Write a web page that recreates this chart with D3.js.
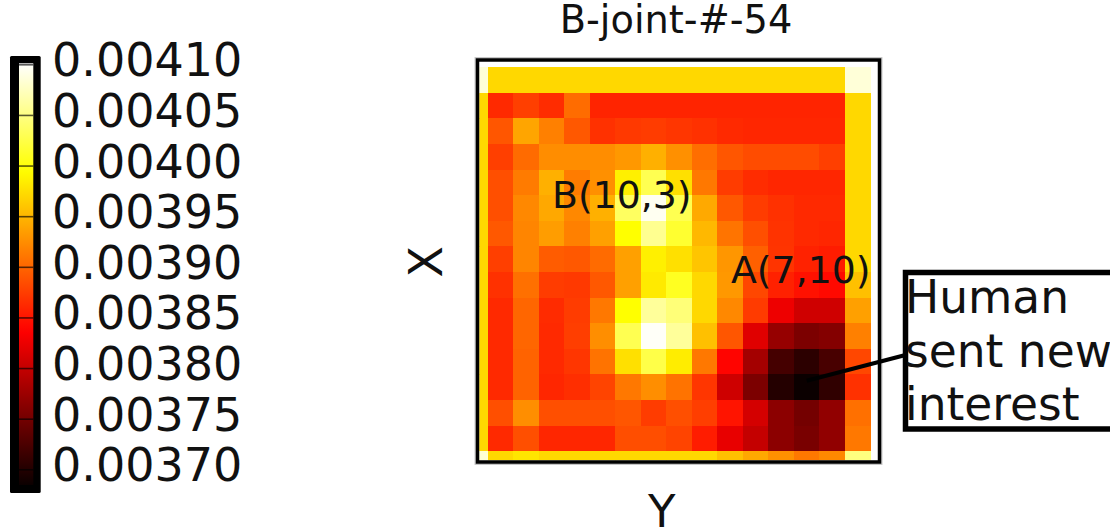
<!DOCTYPE html>
<html>
<head>
<meta charset="utf-8">
<script src="https://cdn.jsdelivr.net/npm/d3@7"></script>
<style>
  body { margin: 0; background: #fff; }
  svg { display: block; }
  text { font-family: "DejaVu Sans", "Liberation Sans", sans-serif; fill: #111; }
</style>
</head>
<body>
<svg id="chart" width="1110" height="531"></svg>
<script>
// ---- data ----------------------------------------------------------------
const chartTitle = "B-joint-#-54";
const xAxisLabel = "Y";
const yAxisLabel = "X";
const rowIds = d3.range(16);
const colIds = d3.range(16);

// interest value of each cell, row by row (top row first)
const cellValues = [
  [0.004085,0.003971,0.003971,0.003971,0.003971,0.003971,0.003971,0.003971,0.003971,0.003971,0.003971,0.003971,0.003971,0.003971,0.003971,0.004085],
  [0.003971,0.003862,0.003876,0.003864,0.003904,0.003859,0.003859,0.003859,0.003859,0.003859,0.003859,0.003859,0.003859,0.003859,0.003859,0.003971],
  [0.003971,0.003890,0.003939,0.003916,0.003891,0.003867,0.003872,0.003874,0.003870,0.003867,0.003862,0.003860,0.003860,0.003860,0.003860,0.003971],
  [0.003971,0.003876,0.003903,0.003924,0.003924,0.003924,0.003931,0.003946,0.003926,0.003905,0.003890,0.003884,0.003884,0.003884,0.003876,0.003971],
  [0.003971,0.003886,0.003913,0.003946,0.003914,0.003926,0.003986,0.004029,0.003976,0.003911,0.003874,0.003864,0.003860,0.003860,0.003860,0.003971],
  [0.003971,0.003886,0.003921,0.003941,0.003921,0.003946,0.004035,0.004095,0.004029,0.003942,0.003891,0.003874,0.003867,0.003862,0.003862,0.003971],
  [0.003971,0.003891,0.003919,0.003934,0.003916,0.003936,0.003995,0.004055,0.004015,0.003951,0.003909,0.003886,0.003868,0.003862,0.003860,0.003971],
  [0.003971,0.003876,0.003919,0.003894,0.003891,0.003903,0.003936,0.003986,0.003976,0.003959,0.003930,0.003896,0.003869,0.003858,0.003854,0.003971],
  [0.003971,0.003867,0.003906,0.003874,0.003872,0.003891,0.003936,0.003982,0.004009,0.003971,0.003931,0.003881,0.003857,0.003847,0.003842,0.003956],
  [0.003971,0.003862,0.003900,0.003863,0.003874,0.003911,0.003995,0.004059,0.004045,0.003971,0.003921,0.003873,0.003826,0.003807,0.003807,0.003936],
  [0.003971,0.003862,0.003900,0.003862,0.003875,0.003925,0.004029,0.004098,0.004059,0.003956,0.003890,0.003817,0.003771,0.003755,0.003760,0.003916],
  [0.003971,0.003862,0.003898,0.003862,0.003870,0.003908,0.003976,0.004025,0.003984,0.003911,0.003839,0.003780,0.003721,0.003705,0.003723,0.003881],
  [0.003971,0.003862,0.003898,0.003860,0.003865,0.003879,0.003911,0.003925,0.003908,0.003870,0.003806,0.003755,0.003700,0.003685,0.003708,0.003867],
  [0.003971,0.003886,0.003925,0.003886,0.003886,0.003886,0.003890,0.003874,0.003886,0.003875,0.003849,0.003810,0.003765,0.003750,0.003768,0.003906],
  [0.003971,0.003862,0.003886,0.003860,0.003860,0.003860,0.003885,0.003885,0.003879,0.003854,0.003822,0.003800,0.003765,0.003753,0.003768,0.003911],
  [0.004082,0.003971,0.003979,0.003971,0.003971,0.003971,0.003971,0.003971,0.003971,0.003971,0.003956,0.003941,0.003926,0.003911,0.003921,0.004048]
];

const colorbarTicks = [0.00370, 0.00375, 0.00380, 0.00385, 0.00390, 0.00395, 0.00400, 0.00405, 0.00410];
const valueMin = 0.0036845;
const valueMax = 0.004101;

const pointLabels = ["B(10,3)", "A(7,10)"];
const noteLines = ["Human", "sent new", "interest"];
const noteCell = { row: 12, col: 13 };

// ---- "hot" colour map -------------------------------------------------
function hot(t) {
  t = Math.max(0, Math.min(1, t));
  const k1 = 0.365079, k2 = 0.746032;
  const r = t < k1 ? 0.0416 + (1 - 0.0416) * t / k1 : 1;
  const g = t < k1 ? 0 : (t < k2 ? (t - k1) / (k2 - k1) : 1);
  const b = t < k2 ? 0 : (t - k2) / (1 - k2);
  return d3.rgb(r * 255, g * 255, b * 255).formatHex();
}
const color = d3.scaleSequential(hot).domain([valueMin, valueMax]);

const svg = d3.select("#chart");
svg.append("rect").attr("width", 1110).attr("height", 531).attr("fill", "#fff");
const defs = svg.append("defs");

// ---- heat map ------------------------------------------------------------
const frame = { x0: 477.5, y0: 60, x1: 879.5, y1: 462 };
const x = d3.scaleBand().domain(colIds).range([462.15, 870.5]);
const y = d3.scaleBand().domain(rowIds).range([67.1, 476.7]);

defs.append("clipPath").attr("id", "plotClip")
  .append("rect")
  .attr("x", frame.x0 + 1.75).attr("y", frame.y0 + 1.75)
  .attr("width", frame.x1 - frame.x0 - 3.5).attr("height", frame.y1 - frame.y0 - 3.5);

const cells = [];
rowIds.forEach(r => colIds.forEach(c => cells.push({ r, c, v: cellValues[r][c] })));

svg.append("g").attr("clip-path", "url(#plotClip)")
  .selectAll("rect").data(cells).join("rect")
  .attr("x", d => x(d.c)).attr("y", d => y(d.r))
  .attr("width", x.bandwidth() + 0.3).attr("height", y.bandwidth() + 0.3)
  .attr("shape-rendering", "crispEdges")
  .attr("fill", d => color(d.v));

// axes frame
svg.append("rect")
  .attr("x", frame.x0 - 2.2).attr("y", frame.y0 - 2.2)
  .attr("width", frame.x1 - frame.x0 + 4.4).attr("height", frame.y1 - frame.y0 + 4.4)
  .attr("fill", "none").attr("stroke", "#c4c4c4").attr("stroke-width", 1.5);
svg.append("rect")
  .attr("x", frame.x0).attr("y", frame.y0)
  .attr("width", frame.x1 - frame.x0).attr("height", frame.y1 - frame.y0)
  .attr("fill", "none").attr("stroke", "#000").attr("stroke-width", 3.5);

// title and axis labels
svg.append("text").attr("x", 676).attr("y", 33.3)
  .attr("text-anchor", "middle").attr("font-size", 38.3).text(chartTitle);
svg.append("text").attr("transform", "translate(426,261.7) rotate(-90)")
  .attr("text-anchor", "middle").attr("dominant-baseline", "central")
  .attr("font-size", 46).text(yAxisLabel);
svg.append("text").attr("x", 661.7).attr("y", 527)
  .attr("text-anchor", "middle").attr("font-size", 45).text(xAxisLabel);

// point labels inside the map
svg.append("text").attr("x", 552).attr("y", 208).attr("font-size", 37.8).text(pointLabels[0]);
svg.append("text").attr("x", 731).attr("y", 283).attr("font-size", 37.8).text(pointLabels[1]);

// note box with connector
const noteBox = { x: 905.5, y: 272.5, w: 215, h: 156.5 };
svg.append("line")
  .attr("x1", x(noteCell.col) + x.bandwidth() / 2)
  .attr("y1", y(noteCell.row) + y.bandwidth() * 0.25)
  .attr("x2", noteBox.x).attr("y2", 355)
  .attr("stroke", "#000").attr("stroke-width", 4);
svg.append("rect")
  .attr("x", noteBox.x).attr("y", noteBox.y)
  .attr("width", noteBox.w).attr("height", noteBox.h)
  .attr("fill", "#fff").attr("stroke", "#000").attr("stroke-width", 5.5);
svg.append("g").selectAll("text").data(noteLines).join("text")
  .attr("x", 905).attr("y", (d, i) => 313.3 + i * 53.4)
  .attr("font-size", 45.5).text(d => d);

// ---- colour bar ------------------------------------------------------------
const cb = { x0: 19, x1: 33.3, y0: 63.3, y1: 485 };
const cbY = d3.scaleLinear().domain([valueMin, valueMax]).range([cb.y1, cb.y0]);

const grad = defs.append("linearGradient").attr("id", "cbGrad")
  .attr("x1", 0).attr("y1", 1).attr("x2", 0).attr("y2", 0);
d3.range(0, 1.0001, 0.02).forEach(t => {
  grad.append("stop").attr("offset", t)
    .attr("stop-color", color(valueMin + t * (valueMax - valueMin)));
});

svg.append("rect").attr("x", 10).attr("y", 56).attr("width", 30.7).attr("height", 437)
  .attr("rx", 1.5).attr("fill", "#000");
svg.append("rect").attr("x", cb.x0).attr("y", cb.y0)
  .attr("width", cb.x1 - cb.x0).attr("height", cb.y1 - cb.y0)
  .attr("fill", "url(#cbGrad)");

const cbAxis = d3.axisRight(cbY)
  .tickValues(colorbarTicks)
  .tickSizeInner(-(cb.x1 - cb.x0)).tickSizeOuter(0)
  .tickPadding(18.7)
  .tickFormat(d3.format(".5f"));
const cbG = svg.append("g").attr("transform", `translate(${cb.x1},0)`).call(cbAxis);
cbG.select(".domain").remove();
cbG.selectAll(".tick line").attr("stroke", "rgba(0,0,0,0.65)").attr("stroke-width", 1.6);
cbG.selectAll(".tick text")
  .attr("dy", null).attr("y", 11.5)
  .attr("font-size", 46).attr("fill", "#111")
  .style("font-family", '"DejaVu Sans", sans-serif');
</script>
</body>
</html>
